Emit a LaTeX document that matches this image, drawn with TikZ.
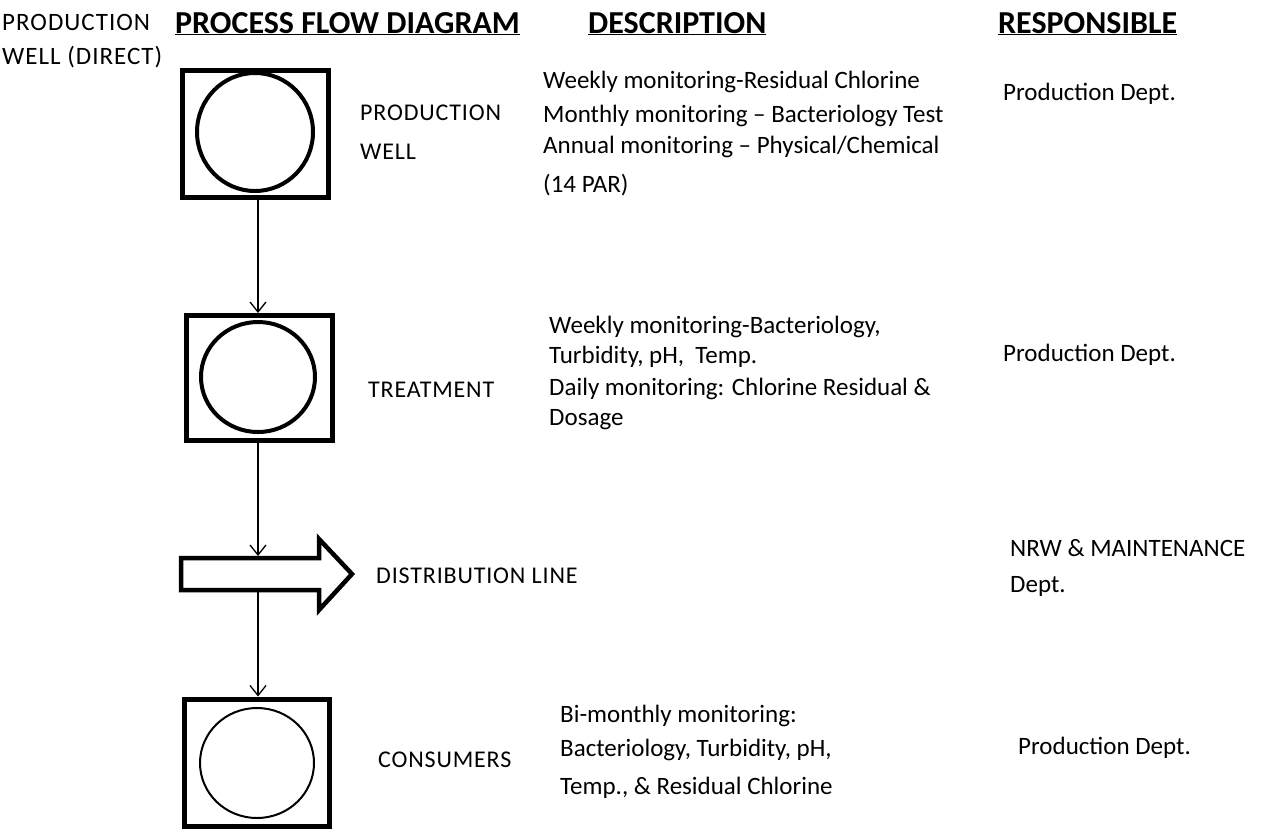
\documentclass[tikz,border=0pt]{standalone}
\usepackage{fontspec}
\setmainfont{Carlito}
\newfontfamily\lblfont{Carlito}[LetterSpace=3.5]
\newfontfamily\tlfont{Carlito}[LetterSpace=4]
\usetikzlibrary{arrows.meta}
\newcommand{\fs}[1]{\fontsize{#1}{#1}\selectfont}
\tikzset{
  x=1pt,y=-1pt,
  txt/.style={anchor=base west,inner sep=0pt,font=\fs{25}},
  head/.style={anchor=base west,inner sep=0pt,font=\fs{32}\bfseries},
  lbl/.style={anchor=base west,inner sep=0pt,font=\lblfont\fs{24}},
  stepbox/.style={draw,line width=5pt,rectangle,inner sep=0pt},
  ring/.style={draw,line width=4pt},
  flow/.style={line width=1.3pt,-{Straight Barb[length=10pt,width=16pt,line width=1.3pt]}},
}
\begin{document}
\begin{tikzpicture}
\useasboundingbox (0,0) rectangle (1263,831);
% top-left label
\node[lbl,font=\tlfont\fs{25}] (tl1) at (2,30) {PRODUCTION};
\node[lbl,font=\tlfont\fs{25}] (tl2) at (2,64) {WELL (DIRECT)};
% headings
\node[head] (h1) at (175,33) {\underline{PROCESS FLOW DIAGRAM}};
\node[head] (h2) at (588,33) {\underline{DESCRIPTION}};
\node[head] (h3) at (998,33) {\underline{RESPONSIBLE}};
% boxes
\node[stepbox,minimum width=146pt,minimum height=127pt] (b1) at (255.5,134) {};
\draw[ring] (255,132) ellipse [x radius=58,y radius=59];
\node[stepbox,minimum width=146pt,minimum height=125pt] (b2) at (259.5,378) {};
\draw[ring] (258,377) ellipse [x radius=57,y radius=55];
\node[stepbox,minimum width=145pt,minimum height=127pt] (b4) at (257,762.5) {};
\draw[line width=2pt] (257,763) ellipse [x radius=57,y radius=55];
% block arrow
\draw[line width=4.5pt,line join=miter] (181,558) -- (319,558) -- (319,539) -- (352,574) -- (319,610) -- (319,590) -- (181,590) -- cycle;
\coordinate (d1) at (258,556);
\coordinate (d2) at (258,592);
% connectors
\draw[flow] (b1.south -| d1) -- (b2.north -| d1);
\draw[flow] (b2.south -| d1) -- (d1);
\draw[flow] (d2) -- (b4.north -| d1);
% labels
\node[lbl] (l1a) at (360,120) {PRODUCTION};
\node[lbl] (l1b) at (360,159) {WELL};
\node[lbl] (l2) at (368,397) {TREATMENT};
\node[lbl] (l3) at (376,583) {DISTRIBUTION LINE};
\node[lbl] (l4) at (378,767) {CONSUMERS};
% descriptions
\node[txt] (d1a) at (543,88) {Weekly monitoring-Residual Chlorine};
\node[txt] (d1b) at (543,122) {Monthly monitoring -- Bacteriology Test};
\node[txt] (d1c) at (543,153) {Annual monitoring -- Physical/Chemical};
\node[txt] (d1d) at (543,192) {(14 PAR)};
\node[txt] (d2a) at (549,333) {Weekly monitoring-Bacteriology,};
\node[txt] (d2b) at (549,363) {Turbidity, pH,\ \ Temp.};
\node[txt] (d2c) at (549,395) {Daily monitoring: Chlorine Residual \&};
\node[txt] (d2d) at (549,425) {Dosage};
\node[txt] (d4a) at (560,722) {Bi-monthly monitoring:};
\node[txt] (d4b) at (560,756) {Bacteriology, Turbidity, pH,};
\node[txt] (d4c) at (560,794) {Temp., \& Residual Chlorine};
% responsible
\node[txt] (r1) at (1003,100) {Production Dept.};
\node[txt] (r2) at (1003,361) {Production Dept.};
\node[txt] (r3a) at (1010,556) {NRW \& MAINTENANCE};
\node[txt] (r3b) at (1010,592) {Dept.};
\node[txt] (r4) at (1018,754) {Production Dept.};
\end{tikzpicture}
\end{document}
